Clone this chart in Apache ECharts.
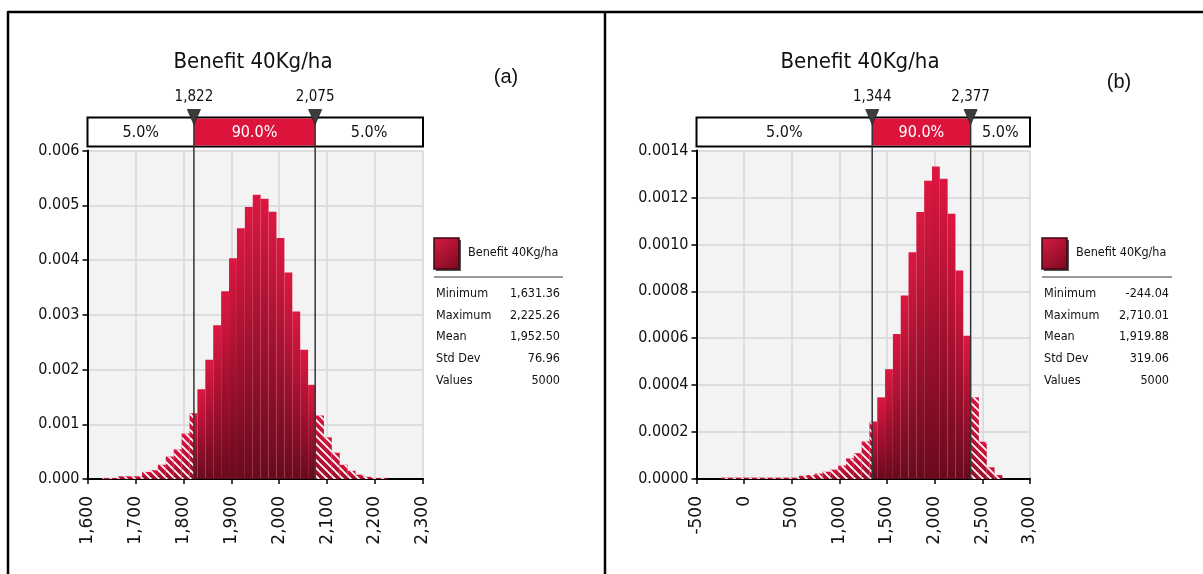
<!DOCTYPE html>
<html><head><meta charset="utf-8">
<script src="https://cdn.jsdelivr.net/npm/echarts@6/dist/echarts.min.js"></script>
<style>html,body{margin:0;padding:0;background:#fff}#c{width:1203px;height:574px}</style>
</head><body><div id="c"></div>
<script>
// ---------- data ----------
const seriesName = 'Benefit 40Kg/ha';
const panelTags = ['(a)', '(b)'];
// histogram densities (36 bins each, spanning min..max)
const densityA = [0.00002,0.00002,0.00005,0.00005,0.00005,0.00013,0.00016,0.00026,0.00041,0.00054,0.00083,0.0012,
  0.00164,0.00218,0.00281,0.00343,0.00403,0.00458,0.00497,0.00519,0.00512,0.00488,0.0044,0.00377,
  0.00306,0.00236,0.00172,0.00116,0.00076,0.00048,0.00026,0.00015,0.00008,0.00004,0.00002,0.00002];
const densityB = [0.000006,0.000006,0.000006,0.000006,0.000006,0.000006,0.000006,0.000006,0.000006,0.000006,0.000014,0.000017,
  0.000023,0.000031,0.00004,0.000057,0.000088,0.00011,0.00016,0.000245,0.000348,0.000468,0.000618,0.000782,
  0.000966,0.001138,0.001271,0.001332,0.00128,0.00113,0.000889,0.00061,0.000348,0.000159,0.00005,0.000017];
const rangeA = [1631.36, 2225.26];
const rangeB = [-244.04, 2710.01];
const cutsA = [1822, 2075];
const cutsB = [1344, 2377];
const cutLabelsA = ['1,822', '2,075'];
const cutLabelsB = ['1,344', '2,377'];
const pctLabels = ['5.0%', '90.0%', '5.0%'];
const xAxisA = {min: 1600, max: 2300, interval: 100};
const xAxisB = {min: -500, max: 3000, interval: 500};
const yAxisA = {min: 0, max: 0.006, interval: 0.001, digits: 3};
const yAxisB = {min: 0, max: 0.0014, interval: 0.0002, digits: 4};
const statNames = ['Minimum', 'Maximum', 'Mean', 'Std Dev', 'Values'];
const statsA = ['1,631.36', '2,225.26', '1,952.50', '76.96', '5000'];
const statsB = ['-244.04', '2,710.01', '1,919.88', '319.06', '5000'];

// ---------- helpers ----------
const COND = '"DejaVu Sans Condensed", "DejaVu Sans", Arial, sans-serif';
const WIDE = '"DejaVu Sans", Verdana, sans-serif';

function binsOf(dens, range) {
  const w = (range[1] - range[0]) / dens.length;
  return dens.map((d, i) => [range[0] + i * w, range[0] + (i + 1) * w, d]);
}

const T = 8;
const hatch = document.createElement('canvas');
hatch.width = T; hatch.height = T;
(function () {
  const g = hatch.getContext('2d');
  g.strokeStyle = 'rgba(255,255,255,1)';
  g.lineWidth = 1.7;
  for (let k = -1; k <= 1; k++) {
    g.beginPath();
    g.moveTo(T * k - T, -T);
    g.lineTo(T * k + 2 * T, 2 * T);
    g.stroke();
  }
})();

function barGrad() {
  return new echarts.graphic.LinearGradient(0, 0, 0.15, 1, [
    {offset: 0, color: '#dc1741'},
    {offset: 1, color: '#6a0a1d'}
  ]);
}
function tailGrad() {
  return new echarts.graphic.LinearGradient(0, 0, 0, 1, [
    {offset: 0, color: '#d8143e'},
    {offset: 1, color: '#9a0e2c'}
  ]);
}

function barRender(cuts) {
  return function (params, api) {
    const x0 = api.value(0), x1 = api.value(1), h = api.value(2);
    const segs = [];
    const add = (a, b, t) => { if (b > a) segs.push([a, b, t]); };
    add(x0, Math.min(x1, cuts[0]), true);
    add(Math.max(x0, cuts[0]), Math.min(x1, cuts[1]), false);
    add(Math.max(x0, cuts[1]), x1, true);
    const children = [];
    segs.forEach(([a, b, t]) => {
      const p0 = api.coord([a, h]), p1 = api.coord([b, 0]);
      const shape = {x: p0[0], y: p0[1], width: p1[0] - p0[0], height: p1[1] - p0[1]};
      children.push({type: 'rect', shape, style: {fill: t ? tailGrad() : barGrad()}});
      if (t) children.push({type: 'rect', shape, style: {fill: {image: hatch, repeat: 'repeat'}}});
    });
    return {type: 'group', children};
  };
}

function stripRender(cutLabels) {
  return function (params, api) {
    const cs = params.coordSys;
    const c1 = api.coord([api.value(0), 0])[0];
    const c2 = api.coord([api.value(1), 0])[0];
    const L = cs.x, R = cs.x + cs.width;
    const top = cs.y - 33, hgt = 29, bottom = cs.y + cs.height;
    const ch = [];
    ch.push({type: 'rect', shape: {x: L, y: top, width: R - L, height: hgt}, style: {fill: '#fff', stroke: '#000', lineWidth: 2}});
    ch.push({type: 'rect', shape: {x: c1, y: top + 1, width: c2 - c1, height: hgt - 2}, style: {fill: '#dc143c'}});
    const mids = [(L + c1) / 2, (c1 + c2) / 2, (c2 + R) / 2];
    mids.forEach((m, i) => ch.push({type: 'text', style: {text: pctLabels[i], x: m, y: top + hgt / 2 + 1, align: 'center', verticalAlign: 'middle', font: '16px ' + COND, fill: i === 1 ? '#fff' : '#111'}}));
    [c1, c2].forEach((c, i) => {
      ch.push({type: 'line', shape: {x1: c, y1: top + 2, x2: c, y2: bottom}, style: {stroke: '#333', lineWidth: 1.5}, z2: 10});
      ch.push({type: 'polygon', shape: {points: [[c - 6.5, top - 8], [c + 6.5, top - 8], [c, top + 7]]}, style: {fill: '#3c3c3c', stroke: '#222', lineWidth: 0.8}, z2: 11});
      ch.push({type: 'text', style: {text: cutLabels[i], x: c, y: top - 20, align: 'center', verticalAlign: 'middle', font: '15px ' + COND, fill: '#111'}});
    });
    return {type: 'group', children: ch};
  };
}

function xAx(cfg, idx) {
  return {
    type: 'value', gridIndex: idx, min: cfg.min, max: cfg.max, interval: cfg.interval,
    axisLine: {show: true, onZero: false, lineStyle: {color: '#000', width: 2}},
    axisTick: {show: true, length: 5, lineStyle: {color: '#000', width: 1.5}},
    axisLabel: {rotate: 90, margin: 17, color: '#111', fontFamily: WIDE, fontSize: 17,
      formatter: v => v.toLocaleString('en-US')},
    splitLine: {show: true, lineStyle: {color: '#d6d6d6', width: 1.5}}
  };
}
function yAx(cfg, idx) {
  return {
    type: 'value', gridIndex: idx, min: cfg.min, max: cfg.max, interval: cfg.interval,
    axisLine: {show: true, onZero: false, lineStyle: {color: '#000', width: 2}},
    axisTick: {show: true, length: 5, lineStyle: {color: '#000', width: 1.5}},
    axisLabel: {margin: 8, color: '#111', fontFamily: COND, fontSize: 16,
      formatter: v => v.toFixed(cfg.digits)},
    splitLine: {show: true, lineStyle: {color: '#d6d6d6', width: 1.5}}
  };
}

function legendGraphics(x0, valRight, stats) {
  const g = [];
  g.push({type: 'rect', shape: {x: x0 + 2, y: 240, width: 25, height: 31}, style: {fill: '#555'}, z: 5});
  g.push({type: 'rect', shape: {x: x0, y: 238, width: 25, height: 31},
    style: {fill: new echarts.graphic.LinearGradient(0, 0, 1, 1, [{offset: 0, color: '#d81a42'}, {offset: 1, color: '#7a0a20'}]), stroke: '#3a0810', lineWidth: 1.5}, z: 6});
  g.push({type: 'text', style: {text: seriesName, x: x0 + 34, y: 253, verticalAlign: 'middle', font: '12.5px ' + COND, fill: '#111'}, z: 6});
  g.push({type: 'line', shape: {x1: x0, y1: 277, x2: valRight + 3, y2: 277}, style: {stroke: '#999', lineWidth: 2}, z: 6});
  statNames.forEach((n, i) => {
    const y = 294 + i * 21.6;
    g.push({type: 'text', style: {text: n, x: x0 + 2, y, verticalAlign: 'middle', font: '12.5px ' + COND, fill: '#111'}, z: 6});
    g.push({type: 'text', style: {text: stats[i], x: valRight, y, align: 'right', verticalAlign: 'middle', font: '12.5px ' + COND, fill: '#111'}, z: 6});
  });
  return g;
}

const chart = echarts.init(document.getElementById('c'), null, {renderer: 'canvas'});
chart.setOption({
  animation: false,
  backgroundColor: '#fff',
  grid: [
    {left: 87.5, top: 150.5, width: 335.5, height: 328.5, show: true, backgroundColor: '#f3f3f3', borderWidth: 0},
    {left: 696.5, top: 150.5, width: 333.5, height: 328.5, show: true, backgroundColor: '#f3f3f3', borderWidth: 0}
  ],
  xAxis: [xAx(xAxisA, 0), xAx(xAxisB, 1)],
  yAxis: [yAx(yAxisA, 0), yAx(yAxisB, 1)],
  series: [
    {type: 'custom', xAxisIndex: 0, yAxisIndex: 0, renderItem: barRender(cutsA), data: binsOf(densityA, rangeA), encode: {x: [0, 1], y: 2}, z: 2},
    {type: 'custom', xAxisIndex: 1, yAxisIndex: 1, renderItem: barRender(cutsB), data: binsOf(densityB, rangeB), encode: {x: [0, 1], y: 2}, z: 2},
    {type: 'custom', xAxisIndex: 0, yAxisIndex: 0, renderItem: stripRender(cutLabelsA), data: [[cutsA[0], cutsA[1], 0]], encode: {x: [0, 1], y: 2}, clip: false, z: 5},
    {type: 'custom', xAxisIndex: 1, yAxisIndex: 1, renderItem: stripRender(cutLabelsB), data: [[cutsB[0], cutsB[1], 0]], encode: {x: [0, 1], y: 2}, clip: false, z: 5}
  ],
  graphic: [
    {type: 'line', shape: {x1: 8, y1: 12, x2: 1203, y2: 12}, style: {stroke: '#000', lineWidth: 2.5}},
    {type: 'line', shape: {x1: 8, y1: 11, x2: 8, y2: 574}, style: {stroke: '#000', lineWidth: 2.5}},
    {type: 'line', shape: {x1: 605, y1: 11, x2: 605, y2: 574}, style: {stroke: '#000', lineWidth: 2.5}},
    {type: 'text', style: {text: seriesName, x: 253, y: 62, align: 'center', verticalAlign: 'middle', font: '22px ' + COND, fill: '#111'}},
    {type: 'text', style: {text: seriesName, x: 860, y: 62, align: 'center', verticalAlign: 'middle', font: '22px ' + COND, fill: '#111'}},
    {type: 'text', style: {text: panelTags[0], x: 506, y: 77, align: 'center', verticalAlign: 'middle', font: '20px "Liberation Sans", Arial, sans-serif', fill: '#111'}},
    {type: 'text', style: {text: panelTags[1], x: 1119, y: 82, align: 'center', verticalAlign: 'middle', font: '20px "Liberation Sans", Arial, sans-serif', fill: '#111'}},
    ...legendGraphics(434, 560, statsA),
    ...legendGraphics(1042, 1169, statsB)
  ]
});
</script>
</body></html>
